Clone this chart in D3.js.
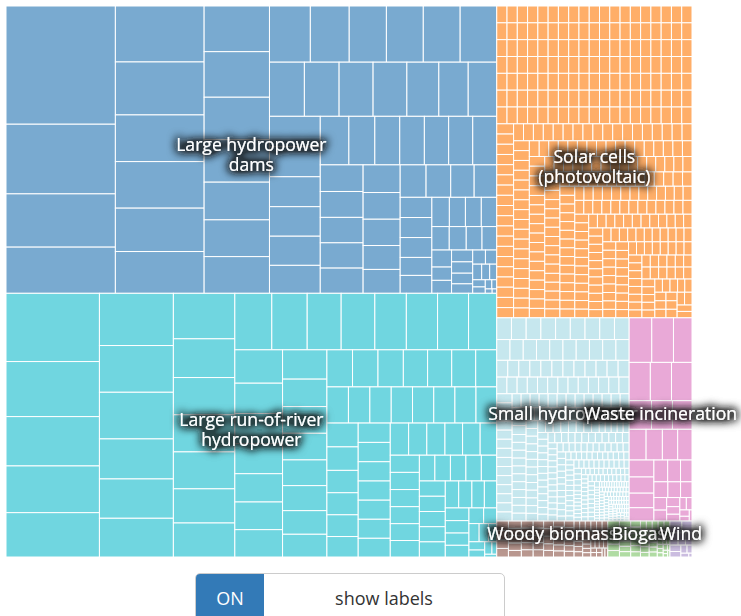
<!DOCTYPE html>
<html>
<head>
<meta charset="utf-8">
<script src="https://cdn.jsdelivr.net/npm/d3@7"></script>
<style>
  body { margin: 0; background: #fff; font-family: "Open Sans", sans-serif; }
  #chart { position: absolute; left: 0; top: 0; }
  .toggle { position: absolute; left: 195px; top: 573px; width: 310px; height: 50px;
    border: 1px solid #ccc; border-radius: 5px; overflow: hidden; display: flex;
    font-size: 18px; box-sizing: border-box; }
  .toggle .on { width: 68px; background: #337ab7; color: #fff; display: flex;
    align-items: center; justify-content: center; }
  .toggle .lbl { flex: 1; color: #333; display: flex; align-items: center; justify-content: center; }
</style>
</head>
<body>
<svg id="chart" width="741" height="566"></svg>
<div class="toggle"><span class="on">ON</span><span class="lbl">show labels</span></div>
<script>
const categories = ["Large hydropower dams", "Large run-of-river hydropower", "Solar cells (photovoltaic)",
  "Small hydropower", "Waste incineration", "Woody biomass", "Biogas", "Wind"];

// one value per plant
const dams = [12930, 7618, 5826, 5050,
  4967, 4701, 4142, 4133, 3850, 3708,
  2984, 2978, 2775, 2775, 2462, 2403, 2397,
  2296, 2184, 2089, 2072, 2072, 2055,
  1890, 1880, 1840, 1830, 1730, 1590, 1545,
  1540, 1530, 1520, 1500, 1480, 1420,
  1390, 1260, 1210, 1195, 1180, 1170,
  1165, 1140, 1110, 1090, 1083,
  1080, 1025, 990, 975, 886,
  885, 840, 800, 760,
  733, 640, 635, 630, 570,
  567, 512, 470, 465,
  452, 407, 398, 370,
  345, 335, 262, 255, 250, 240, 225, 200, 180, 160, 140, 125, 110, 90, 80, 60, 45, 30, 20];

const runOfRiver = [6377, 5143, 4610, 4366, 4142,
  3863, 3455, 3450, 2960, 2908, 2864,
  2798, 2380, 2290, 2280, 2270, 2100, 2090,
  2090, 2000, 1920, 1904, 1780, 1765, 1752, 1593,
  1593, 1445, 1440, 1435, 1350, 1320, 1305,
  1300, 1217, 1185, 1181, 1141, 1110, 1048, 1008,
  950, 945, 940, 900, 895, 890, 780,
  778, 775, 772, 770, 768, 765, 762, 750,
  745, 735, 700, 690, 680, 640, 620,
  620, 618, 615, 612, 610, 600, 590,
  585, 583, 566, 565, 533, 500,
  500, 498, 495, 490, 480, 400,
  400, 399, 398, 397, 396,
  395, 394, 393, 392, 362,
  356, 336, 334,
  300, 294, 290, 277,
  230, 205, 185, 170, 150, 130, 110, 90, 60, 33];

const solar = [
  173,173,173,173,173,173,173,173,173,173,173,173,173,173,173,173,173,173,173,
  173,173,173,173,173,173,173,173,173,173,173,173,173,173,173,173,173,173,173,
  173,173,173,173,173,173,173,173,173,173,173,173,173,173,173,173,173,173,173,
  173,173,173,173,173,173,173,173,173,173,173,173,173,173,173,173,173,173,173,
  173,173,173,173,173,173,173,173,173,173,173,173,173,173,173,173,173,173,173,
  173,173,173,173,173,173,173,173,173,173,173,173,173,173,173,173,173,173,173,
  173,173,173,173,173,173,173,173,173,173,173,173,173,173,173,173,173,173,173,
  172,172,172,172,172,172,172,172,172,172,172,172,172,172,172,172,172,172,172,
  168,168,168,168,168,168,168,168,168,168,168,168,168,168,168,168,168,168,
  155,155,155,155,155,155,155,155,155,155,155,155,155,155,155,155,155,155,155,
  150,150,150,150,150,150,150,150,150,150,150,150,150,150,150,150,150,150,150,150,
  145,145,145,145,145,145,145,145,145,145,145,145,145,145,145,145,145,145,145,145,
  140,140,140,140,140,140,140,140,140,140,140,140,140,140,140,140,140,140,140,140,
  135,135,135,135,135,135,135,135,135,135,135,135,135,135,135,135,135,135,135,135,
  130,130,130,130,130,130,130,130,130,130,130,130,130,130,130,130,130,130,130,130,
  125,125,125,125,125,125,125,125,125,125,125,125,125,125,125,125,125,125,125,125,
  120,120,120,120,120,120,120,120,120,120,120,120,120,120,120,120,120,120,120,120,
  115,115,115,115,115,115,115,115,115,115,115,115,115,115,115,115,115,115,115,115,
  110,110,110,110,110,110,110,110,110,110,110,110,110,110,110,110,110,110,110,110,
  105,105,105,105,105,105,105,105,105,105,105,105,105,105,105,105,105,105,105,105,
  100,100,100,100,100,100,100,100,100,100,100,100,100,100,100,100,100,100,100,100,
  95,95,95,95,95,95,95,95,95,95,95,95];

const smallHydro = [
  320,320,320,320,320,320,320,320,320,
  275,275,275,275,275,275,275,275,275,275,
  185,185,185,185,185,185,185,185,185,185,185,185,
  170,170,170,170,170,170,170,170,170,170,170,170,170,
  140,140,140,140,140,140,140,140,140,140,140,140,140,140,
  125,125,125,125,125,125,125,125,125,125,125,125,125,125,125,125,
  110,110,110,110,110,110,110,110,110,110,110,110,110,110,110,110,110,110,110,110,
  90,90,90,90,90,90,90,90,90,90,90,90,90,90,90,90,90,90,90,90,90,90,90,90,90,
  70,70,70,70,70,70,70,70,70,70,70,70,70,70,70,70,70,70,70,70,70,70,70,70,70,70,70,70,70,70,
  55,55,55,55,55,55,55,55,55,55,55,55,55,55,55,55,55,55,55,55,55,55,55,55,55,55,55,55,55,55,55,55,55,55,55,
  42,42,42,42,42,42,42,42,42,42,42,42,42,42,42,42,42,42,42,42,
  42,42,42,42,42,42,42,42,42,42,42,42,42,42,42,42,42,42,42,42,
  28,28,28,28,28,28,28,28,28,28,28,28,28,28,28,28,28,28,28,28,28,28,28,28,28,
  28,28,28,28,28,28,28,28,28,28,28,28,28,28,28,28,28,28,28,28,28,28,28,28,28,
  14,14,14,14,14,14,14,14,14,14,14,14,14,14,14,14,14,14,14,14,
  14,14,14,14,14,14,14,14,14,14,14,14,14,14,14,14,14,14,14,14,
  14,14,14,14,14,14,14,14,14,14,14,14,14,14,14,14,14,14,14,14,
  10,10,10,10,10,10,10,10,10,10,10,10,10,10,10,10,10,10,10,10,10,10,10,10,10,
  10,10,10,10,10,10,10,10,10,10,10,10,10,10,10,10,10,10,10,10,10,10,10,10,10];

const waste = [1008, 967, 826, 810, 809, 785,
  640, 600, 560, 520, 500, 470, 440, 420, 400, 360, 330, 300, 280, 250,
  220, 200, 180, 160, 140, 120, 100, 90, 80, 70, 60, 45, 30];

const woody = [110, 110, 100, 100, 95, 95, 95, 95,
  85, 85, 85, 85, 85, 85,
  75, 75, 75, 75, 75, 75, 75, 75,
  65, 65, 65, 65, 65, 65, 65, 65, 65, 65,
  55, 55, 55, 55, 55, 55, 55, 55, 55, 55,
  45, 45, 45, 45, 45, 45, 45, 45, 45, 45,
  35, 35, 35, 35, 35, 35, 35, 35,
  25, 25, 25, 25, 25, 25];

const biogas = [90, 90, 90, 75, 75, 75, 75, 75,
  60, 60, 60, 60, 60, 60, 60, 60,
  50, 50, 50, 50, 50, 50, 50, 50, 50, 50,
  40, 40, 40, 40, 40, 40, 40, 40, 40, 40,
  25, 25, 25, 25, 25, 25, 15, 15, 15, 15];

const wind = [140, 120, 100, 90, 80, 70, 60, 50, 40, 30, 12];

const plants = [dams, runOfRiver, solar, smallHydro, waste, woody, biogas, wind];
const colors = ["#79aad0", "#70d6e0", "#ffae68", "#c6e7ee", "#e9a9d7", "#b9978f", "#b0dca3", "#cbbde0"];

const svg = d3.select("#chart");

// dark blurred halo behind the group labels
const defs = svg.append("defs");
const halo = defs.append("filter").attr("id", "halo")
  .attr("x", "-30%").attr("y", "-100%").attr("width", "160%").attr("height", "300%");
halo.append("feMorphology").attr("in", "SourceAlpha").attr("operator", "dilate")
  .attr("radius", 1).attr("result", "fat");
halo.append("feGaussianBlur").attr("in", "fat").attr("stdDeviation", 5).attr("result", "blur");
halo.append("feComponentTransfer").attr("in", "blur").attr("result", "thick")
  .append("feFuncA").attr("type", "linear").attr("slope", 2.2);
halo.append("feFlood").attr("flood-color", "#101010").attr("flood-opacity", 0.75).attr("result", "dark");
halo.append("feComposite").attr("in", "dark").attr("in2", "thick").attr("operator", "in").attr("result", "shadow");
const merge = halo.append("feMerge");
merge.append("feMergeNode").attr("in", "shadow");
merge.append("feMergeNode").attr("in", "SourceGraphic");

const data = {
  children: categories.map((name, i) => ({
    name, idx: i,
    children: plants[i].map(v => ({ value: v }))
  }))
};

const root = d3.hierarchy(data)
  .sum(d => d.value || 0)
  .sort((a, b) => b.value - a.value);

d3.treemap()
  .tile(d3.treemapSquarify)
  .size([686, 551])(root);

const g = svg.append("g").attr("transform", "translate(6,6)");

g.selectAll("rect")
  .data(root.leaves())
  .join("rect")
  .attr("x", d => d.x0)
  .attr("y", d => d.y0)
  .attr("width", d => d.x1 - d.x0)
  .attr("height", d => d.y1 - d.y0)
  .attr("fill", d => colors[d.parent.data.idx])
  .attr("stroke", "#fff")
  .attr("stroke-width", 1);

// wrap a label into lines of at most 18 characters
function wrap(s) {
  const lines = [];
  let cur = "";
  s.split(" ").forEach(w => {
    if (cur && (cur + " " + w).length > 18) { lines.push(cur); cur = w; }
    else cur = cur ? cur + " " + w : w;
  });
  lines.push(cur);
  return lines;
}

const groups = root.children.slice().sort((a, b) => a.data.idx - b.data.idx);

const labels = g.selectAll("text.label")
  .data(groups)
  .join("text")
  .attr("class", "label")
  .attr("x", d => (d.x0 + d.x1) / 2)
  .attr("y", d => (d.y0 + d.y1) / 2 + 1)
  .attr("text-anchor", "middle")
  .attr("font-family", "Open Sans")
  .attr("font-size", 17.6)
  .attr("fill", "#fff")
  .attr("filter", "url(#halo)");

labels.each(function (d) {
  const t = d3.select(this);
  wrap(d.data.name).forEach((line, i) => {
    t.append("tspan")
      .attr("x", (d.x0 + d.x1) / 2)
      .attr("dy", i === 0 ? 0 : 20)
      .text(line);
  });
});
</script>
</body>
</html>
